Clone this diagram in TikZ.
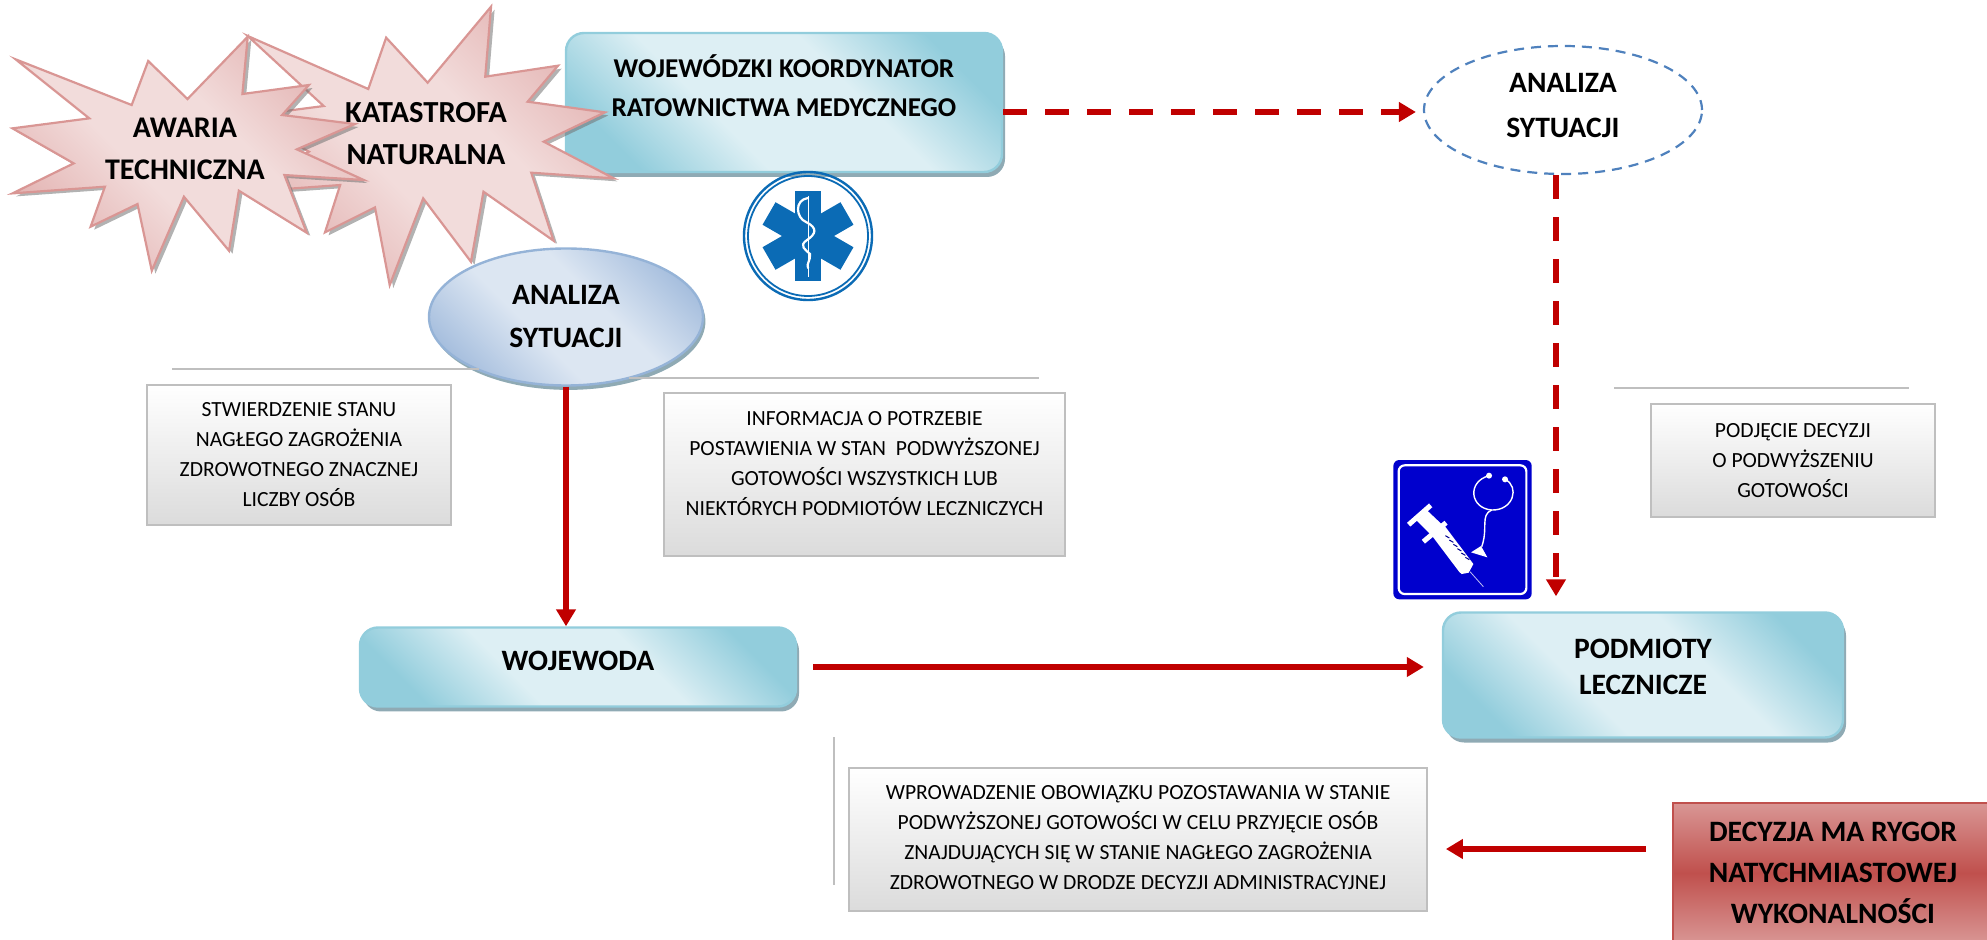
\documentclass[tikz,border=0pt]{standalone}
\usepackage{fontspec}
\setmainfont{Carlito}
\usetikzlibrary{arrows.meta,shapes.geometric,shadows,calc}
\definecolor{cyanD}{HTML}{92CDDC}
\definecolor{cyanL}{HTML}{DDEFF4}
\definecolor{cyanS}{HTML}{8FAAB4}
\definecolor{pinkD}{HTML}{E3B3B2}
\definecolor{pinkL}{HTML}{F2DCDB}
\definecolor{pinkE}{HTML}{D99694}
\definecolor{redD}{HTML}{C0504D}
\definecolor{arrowred}{HTML}{C00000}
\definecolor{steelD}{HTML}{A7BFDE}
\definecolor{steelL}{HTML}{DCE6F2}
\definecolor{steelE}{HTML}{95B3D7}
\definecolor{dashblue}{HTML}{4F81BD}
\definecolor{lifeblue}{HTML}{0B6BB5}
\definecolor{signblue}{HTML}{0000CD}
\pgfdeclarehorizontalshading{bandcyan}{100bp}{color(0bp)=(cyanD);color(24bp)=(cyanD);color(40bp)=(cyanL);color(60bp)=(cyanL);color(76bp)=(cyanD);color(100bp)=(cyanD)}
\pgfdeclarehorizontalshading{bandpink}{100bp}{color(0bp)=(pinkD);color(24bp)=(pinkD);color(42bp)=(pinkL);color(58bp)=(pinkL);color(76bp)=(pinkD);color(100bp)=(pinkD)}
\pgfdeclarehorizontalshading{bandsteel}{100bp}{color(0bp)=(steelD);color(24bp)=(steelD);color(42bp)=(steelL);color(58bp)=(steelL);color(76bp)=(steelD);color(100bp)=(steelD)}
\newcommand\lift[1]{\rule[-#1]{0pt}{#1}}
\tikzset{
  x=0.5pt,y=-0.5pt,
  cyanbox/.style={draw=cyanD,line width=1.2pt,rounded corners=9pt,inner sep=0pt,align=center,
    shading=bandcyan,shading angle=45,
    general shadow={shadow xshift=1.5pt,shadow yshift=-2.5pt,fill=cyanS},
    font=\fontsize{14.8}{19}\selectfont\bfseries},
  graybox/.style={draw=black!25,line width=0.9pt,inner sep=0pt,align=center,
    top color=white,bottom color=black!14,font=\fontsize{10.8}{15}\selectfont},
  bigtext/.style={align=center,inner sep=0pt,font=\fontsize{15}{20.8}\selectfont\bfseries},
  sep/.style={draw=black!25,line width=0.8pt},
  solidarrow/.style={draw=arrowred,line width=2.8pt,-{Triangle[length=8.5pt,width=9.5pt]}},
  dasharrow/.style={draw=arrowred,line width=3pt,dash pattern=on 12pt off 9pt,-{Triangle[length=8.5pt,width=9.5pt]}},
  starshape/.style={draw=pinkE,line width=1.1pt,line join=miter,miter limit=20,
    shading=bandpink,shading angle=45},
  starshadow/.style={fill=black!55,opacity=0.55},
}
\begin{document}
\begin{tikzpicture}
\useasboundingbox (0,0) rectangle (1987,940);
% boxes beneath the stars
\node[cyanbox,minimum width=218pt,minimum height=69.5pt,
      font=\fontsize{13.6}{19.5}\selectfont\bfseries] (koord) at (784,102.5)
  {WOJEWÓDZKI KOORDYNATOR\\RATOWNICTWA MEDYCZNEGO\lift{17pt}};
% stars
\def\startwo{(555,108)--(825,267)--(865,113)--(958,248)--(1100,20)--(1087,230)--(1250,197)--(1182,305)--(1355,337)--(1218,425)--(1375,535)--(1190,518)--(1240,722)--(1083,575)--(1055,785)--(948,595)--(873,855)--(840,622)--(728,697)--(762,555)--(555,575)--(692,455)--(553,348)--(725,318)--cycle}
\def\starone{(35,178)--(295,315)--(332,183)--(420,297)--(555,110)--(543,282)--(692,255)--(632,345)--(795,372)--(665,448)--(815,540)--(637,525)--(687,698)--(535,572)--(513,752)--(412,590)--(340,812)--(308,612)--(203,680)--(235,560)--(28,580)--(165,490)--(28,385)--(200,355)--cycle}
\begin{scope}[x=0.2232pt,y=-0.1667pt]
  \fill[starshadow,shift={(8,9)}] \startwo;
  \path[starshape] \startwo;
  \fill[starshadow,shift={(8,9)}] \starone;
  \path[starshape] \starone;
\end{scope}
\node[bigtext,font=\fontsize{15.3}{20.8}\selectfont\bfseries] (katastrofa) at (426,133.5) {KATASTROFA\\NATURALNA};
\node[bigtext] (awaria) at (185,149) {AWARIA\\TECHNICZNA};
% solid ellipse
\node[ellipse,draw=steelE,line width=1.2pt,minimum width=137pt,minimum height=68.5pt,inner sep=0pt,
      shading=bandsteel,shading angle=45,
      general shadow={shadow xshift=1.2pt,shadow yshift=-2.2pt,fill=cyanS},
      align=center,font=\fontsize{14.8}{21.5}\selectfont\bfseries] (analiza) at (566,317)
  {ANALIZA\\SYTUACJI};
% dashed ellipse
\node[ellipse,draw=dashblue,line width=1.1pt,dash pattern=on 5pt off 3.5pt,minimum width=139pt,minimum height=64pt,inner sep=0pt,
      align=center,font=\fontsize{14.8}{22.5}\selectfont\bfseries] (analizab) at (1563,110)
  {ANALIZA\\SYTUACJI\lift{5pt}};
% other rounded boxes
\node[cyanbox,minimum width=218pt,minimum height=39.5pt] (wojewoda) at (578,667) {WOJEWODA\lift{6pt}};
\node[cyanbox,minimum width=200pt,minimum height=62.5pt,font=\fontsize{14.8}{18}\selectfont\bfseries] (podmioty) at (1643,675) {PODMIOTY\\LECZNICZE\lift{8pt}};
\node[draw=redD,line width=1.2pt,inner sep=0pt,minimum width=160pt,minimum height=70pt,
      top color=pinkE,bottom color=pinkE,middle color=redD,align=center,
      font=\fontsize{14.8}{20.5}\selectfont\bfseries] (decyzja) at (1833,873)
  {DECYZJA MA RYGOR\\NATYCHMIASTOWEJ\\WYKONALNOŚCI};
% grey boxes
\node[graybox,minimum width=152pt,minimum height=70pt] (stan) at (299,455)
  {STWIERDZENIE STANU\\NAGŁEGO ZAGROŻENIA\\ZDROWOTNEGO ZNACZNEJ\\LICZBY OSÓB};
\node[graybox,minimum width=200.5pt,minimum height=81.5pt] (potrzeba) at (864.5,474.5)
  {INFORMACJA O POTRZEBIE\\POSTAWIENIA W STAN\ \ PODWYŻSZONEJ\\GOTOWOŚCI WSZYSTKICH LUB\\NIEKTÓRYCH PODMIOTÓW LECZNICZYCH\lift{11pt}};
\node[graybox,minimum width=142pt,minimum height=56.5pt] (podjecie) at (1793,460.5)
  {PODJĘCIE DECYZJI\\O PODWYŻSZENIU\\GOTOWOŚCI};
\node[graybox,minimum width=289pt,minimum height=71.5pt] (obowiazek) at (1138,839.5)
  {WPROWADZENIE OBOWIĄZKU POZOSTAWANIA W STANIE\\PODWYŻSZONEJ GOTOWOŚCI W CELU PRZYJĘCIE OSÓB\\ZNAJDUJĄCYCH SIĘ W STANIE NAGŁEGO ZAGROŻENIA\\ZDROWOTNEGO W DRODZE DECYZJI ADMINISTRACYJNEJ\lift{2pt}};
% separators
\path[sep] (172,369) -- (479,369);
\path[sep] (629,378) -- (1039,378);
\path[sep] (1614,388) -- (1909,388);
\path[sep] (834,737) -- (834,885);
% connectors
\path[dasharrow,shorten >=3.5pt] ([yshift=-1pt]koord.east |- analizab.west) -- ([yshift=-1pt]analizab.west);
\path[dasharrow,shorten >=7.5pt] ([xshift=-3.5pt]analizab.south) -- ([xshift=-3.5pt]analizab.south |- podmioty.north);
\path[solidarrow] (analiza.south) -- (analiza.south |- wojewoda.north);
\path[solidarrow,shorten <=8pt,shorten >=9pt] (wojewoda.east) -- (wojewoda.east -| podmioty.west);
\path[solidarrow,shorten <=13pt,shorten >=9pt] ([yshift=12pt]decyzja.west) -- ([yshift=12pt]decyzja.west -| obowiazek.east);
% star of life
\begin{scope}[shift={(808,236)}]
  \draw[lifeblue,line width=1.2pt] (0,0) circle[radius=64];
  \draw[lifeblue,line width=0.9pt] (0,0) circle[radius=60];
  \foreach \a in {0,60,120}
    \fill[lifeblue,rotate=\a] (-13,-45) rectangle (13,45);
  \draw[white,line width=0.5pt] (0,-40) -- (0,41);
  \draw[white,line width=1.1pt,line cap=round] (0,-38) .. controls (-14,-36) and (-12,-18) .. (-2,-14)
     .. controls (10,-8) and (8,-2) .. (-1,4) .. controls (-10,10) and (-2,14) .. (2,18) .. controls (3,24) and (-2,28) .. (0,32);
\end{scope}
% medical sign
\begin{scope}[shift={(1370,440)},x=0.1667pt,y=-0.1667pt]
  \fill[signblue,rounded corners=3pt] (70,60) rectangle (485,478);
  \draw[white,line width=1.1pt,rounded corners=3pt] (86,76) rectangle (469,462);
  \begin{scope}[white,line cap=butt]
    \draw[line width=2.5pt] (116,254) -- (182,196);
    \fill (140,242) -- (172,212) -- (225,262) -- (190,292) -- cycle;
    \draw[line width=2.5pt] (160,305) -- (228,248);
    \fill (182,282) -- (222,255) -- (310,372) -- (296,398) -- (275,402) -- (268,396) -- cycle;
    \draw[line width=0.4pt,white!75!signblue] (300,395) -- (340,440);
    \draw[line width=0.7pt] (357,107) .. controls (290,125) and (300,205) .. (365,210) .. controls (430,212) and (450,140) .. (405,118);
    \fill (357,107) circle[radius=9];
    \fill (405,118) circle[radius=9];
    \draw[line width=0.7pt] (365,210) .. controls (330,225) and (355,265) .. (335,320);
    \fill (303,337) -- (333,318) -- (352,352) -- cycle;
  \end{scope}
  \foreach \i in {0,1,2,3,4,5}
    \draw[signblue!70!black,line width=0.5pt] ({226+\i*12},{287+\i*13}) -- ({238+\i*12},{294+\i*13});
\end{scope}
\end{tikzpicture}
\end{document}
